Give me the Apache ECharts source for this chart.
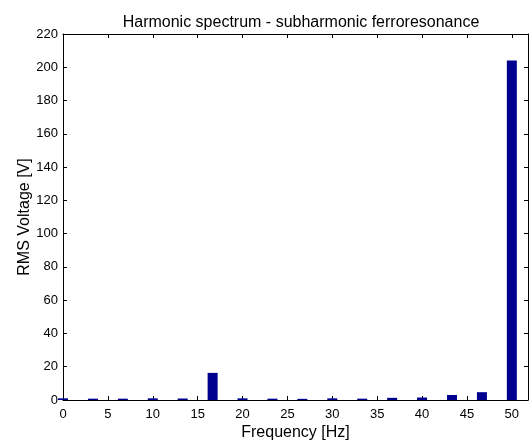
<!DOCTYPE html>
<html>
<head>
<meta charset="utf-8">
<script src="https://cdn.jsdelivr.net/npm/echarts@6/dist/echarts.min.js"></script>
<style>html,body{margin:0;padding:0;background:#fff;}#c{width:532px;height:446px;}</style>
</head>
<body>
<div id="c"></div>
<script>
const frequencies = [0, 3.333, 6.667, 10, 13.333, 16.667, 20, 23.333, 26.667, 30, 33.333, 36.667, 40, 43.333, 46.667, 50];
const rmsVoltage = [1.0, 0.8, 0.8, 1.0, 0.9, 16.3, 1.0, 0.8, 0.7, 1.0, 0.8, 1.3, 1.5, 3.0, 4.7, 204];
const xTicks = [0, 5, 10, 15, 20, 25, 30, 35, 40, 45, 50];
const yTicks = [0, 20, 40, 60, 80, 100, 120, 140, 160, 180, 200, 220];

const font = 'Liberation Sans, Arial, sans-serif';
const chart = echarts.init(document.getElementById('c'));
const axisLineStyle = {color: '#000', width: 1};
chart.setOption({
  animation: false,
  backgroundColor: '#fff',
  title: {
    text: 'Harmonic spectrum - subharmonic ferroresonance',
    left: 296, top: 10, textAlign: 'center',
    textStyle: {fontFamily: font, fontSize: 16, fontWeight: 'normal', color: '#000'}
  },
  grid: {left: 63, top: 34, right: 4, bottom: 44, containLabel: false},
  xAxis: [{
    type: 'value', min: 0, max: 51.8, interval: 5,
    name: 'Frequency [Hz]', nameLocation: 'middle', nameGap: 25, nameMoveOverlap: false,
    nameTextStyle: {fontFamily: font, fontSize: 16, color: '#000'},
    axisLine: {show: true, lineStyle: axisLineStyle},
    axisTick: {show: true, inside: true, length: 4, lineStyle: axisLineStyle},
    axisLabel: {fontFamily: font, fontSize: 13, color: '#000', margin: 8, showMaxLabel: false,
      formatter: v => xTicks.includes(v) ? String(v) : ''},
    splitLine: {show: false}
  }, {
    type: 'value', min: 0, max: 51.8, interval: 5, position: 'top',
    axisLine: {show: true, onZero: false, lineStyle: axisLineStyle},
    axisTick: {show: true, inside: true, length: 4, lineStyle: axisLineStyle},
    axisLabel: {show: false}, splitLine: {show: false}
  }],
  yAxis: [{
    type: 'value', min: 0, max: 220, interval: 20,
    name: 'RMS Voltage [V]', nameLocation: 'middle', nameGap: 30, nameMoveOverlap: false,
    nameTextStyle: {fontFamily: font, fontSize: 16, color: '#000'},
    axisLine: {show: true, lineStyle: axisLineStyle},
    axisTick: {show: true, inside: true, length: 4, lineStyle: axisLineStyle},
    axisLabel: {fontFamily: font, fontSize: 13, color: '#000', margin: 5,
      formatter: v => yTicks.includes(v) ? String(v) : ''},
    splitLine: {show: false}
  }, {
    type: 'value', min: 0, max: 220, interval: 20, position: 'right',
    axisLine: {show: true, onZero: false, lineStyle: axisLineStyle},
    axisTick: {show: true, inside: true, length: 4, lineStyle: axisLineStyle},
    axisLabel: {show: false}, splitLine: {show: false}
  }],
  series: [{
    type: 'bar',
    xAxisIndex: 0, yAxisIndex: 0,
    barWidth: 10,
    clip: true,
    itemStyle: {color: '#00008F'},
    data: frequencies.map((f, i) => [f, rmsVoltage[i]])
  }]
});
</script>
</body>
</html>
